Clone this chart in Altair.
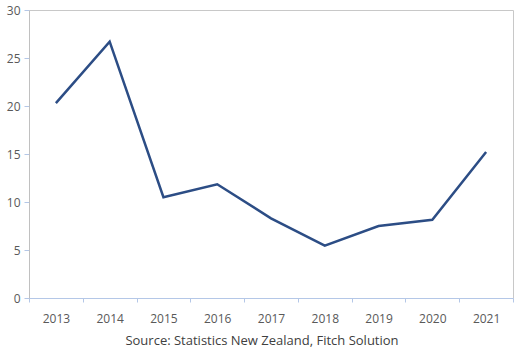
import altair as alt
import pandas as pd

years = ["2013", "2014", "2015", "2016", "2017", "2018", "2019", "2020", "2021"]
values = [20.3, 26.7, 10.5, 11.85, 8.3, 5.45, 7.5, 8.15, 15.2]
y_ticks = [0, 5, 10, 15, 20, 25, 30]
source_text = "Source: Statistics New Zealand, Fitch Solution"

df = pd.DataFrame({"year": years, "value": values})

FONT = "Open Sans"

chart = alt.Chart(df).mark_line(color="#2C4D85", strokeWidth=2.5).encode(
    x=alt.X(
        "year:O",
        sort=years,
        title=None,
        scale=alt.Scale(paddingInner=0, paddingOuter=0),
        axis=alt.Axis(
            labelAngle=0,
            tickBand="extent",
            domainColor="#B4C7E7",
            tickColor="#B4C7E7",
            tickSize=4,
            labelPadding=11,
            labelColor="#595959",
            labelFont=FONT,
            labelFontSize=12,
            grid=False,
        ),
    ),
    y=alt.Y(
        "value:Q",
        title=None,
        scale=alt.Scale(domain=[0, 30], nice=False),
        axis=alt.Axis(
            values=y_ticks,
            domainColor="#C0C0C0",
            tickColor="#B4C7E7",
            tickSize=5,
            labelPadding=4,
            labelColor="#595959",
            labelFont=FONT,
            labelFontSize=12,
            grid=False,
        ),
    ),
).properties(
    width=484,
    height=288,
    autosize=alt.AutoSizeParams(type="none"),
    padding={"left": 29, "top": 10, "right": 7, "bottom": 54},
    title=alt.TitleParams(
        text=source_text,
        orient="bottom",
        anchor="middle",
        dx=-9,
        offset=11,
        font=FONT,
        fontSize=13,
        fontWeight="normal",
        color="#404040",
    ),
).configure_view(stroke="#C8C8C8", strokeWidth=1)

chart.save("out.html", embed_options={"renderer": "svg", "actions": False})
